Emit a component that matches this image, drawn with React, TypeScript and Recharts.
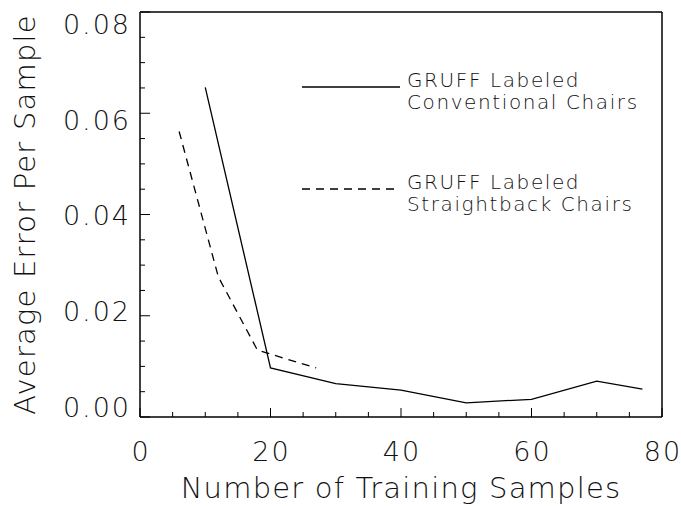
import React from "react";
import { LineChart, Line, XAxis, YAxis, Legend, Label } from "recharts";

// GRUFF labeled conventional chairs
const conventionalSamples = [10, 20, 30, 40, 50, 60, 70, 77];
const conventionalError = [0.0651, 0.0097, 0.0066, 0.0053, 0.0028, 0.0035, 0.0071, 0.0055];

// GRUFF labeled straightback chairs
const straightbackSamples = [6, 12, 18, 27];
const straightbackError = [0.0564, 0.0277, 0.0132, 0.0097];

const xTicks = [0, 5, 10, 15, 20, 25, 30, 35, 40, 45, 50, 55, 60, 65, 70, 75, 80];
const yTicks = [
	0, 0.005, 0.01, 0.015, 0.02, 0.025, 0.03, 0.035, 0.04, 0.045, 0.05, 0.055, 0.06, 0.065, 0.07, 0.075, 0.08,
];

const seriesNames = ["GRUFF Labeled\nConventional Chairs", "GRUFF Labeled\nStraightback Chairs"];

const conventionalData = conventionalSamples.map((x, i) => ({ x, err: conventionalError[i] }));
const straightbackData = straightbackSamples.map((x, i) => ({ x, err: straightbackError[i] }));

const FONT = '"DejaVu Sans", "Liberation Sans", sans-serif';
const INK = "#000";
const TEXT = "#111";

const isMajorX = (v: number) => v % 20 === 0;
const isMajorY = (v: number) => Math.abs(v * 50 - Math.round(v * 50)) < 1e-6;

const MINOR = 5;
const X_EXTRA = 4; // major ticks on x run a little longer
const Y_EXTRA = 5;
const BOTTOM_MARGIN = 30;
const LEFT_MARGIN = 14;

const tickFont = { fontSize: 27, letterSpacing: 2 };
const titleFont = { fontSize: 29, letterSpacing: 1.2 };

// tick renderers: label + extension of the tick line for major ticks
function BottomTick(props: any) {
	const { x, y, payload } = props;
	const v = payload.value;
	const lineY = y - BOTTOM_MARGIN;
	return (
		<g>
			{isMajorX(v) && <line x1={x} x2={x} y1={lineY} y2={lineY - X_EXTRA} stroke={INK} />}
			{isMajorX(v) && (
				<text x={x + 1} y={y} dy="0.71em" textAnchor="middle" fill={TEXT} style={tickFont}>
					{String(v)}
				</text>
			)}
		</g>
	);
}

function TopTick(props: any) {
	const { x, y, payload } = props;
	if (!isMajorX(payload.value)) return <g />;
	return <line x1={x} x2={x} y1={y} y2={y + X_EXTRA} stroke={INK} />;
}

function LeftTick(props: any) {
	const { x, y, payload } = props;
	const v = payload.value;
	if (!isMajorY(v)) return <g />;
	const lineX = x + LEFT_MARGIN;
	// labels sit a bit inside the frame at both ends, as in the original plot
	const labelY = y - 9.5 + v * 268;
	return (
		<g>
			<line x1={lineX} x2={lineX + Y_EXTRA} y1={y} y2={y} stroke={INK} />
			<text x={x} y={labelY} dy="0.36em" textAnchor="end" fill={TEXT} style={tickFont}>
				{v.toFixed(2)}
			</text>
		</g>
	);
}

function RightTick(props: any) {
	const { x, y, payload } = props;
	if (!isMajorY(payload.value)) return <g />;
	return <line x1={x} x2={x - Y_EXTRA} y1={y} y2={y} stroke={INK} />;
}

function ChartLegend(props: any) {
	const payload = props.payload || [];
	return (
		<div style={{ position: "relative", width: 681, height: 506 }}>
			{payload.map((entry: any, i: number) => {
				const lineY = 87 + i * 102;
				const dash = entry.payload?.strokeDasharray;
				const lines = String(entry.value).split("\n");
				return (
					<div key={`leg-${i}`}>
						<svg
							width={100}
							height={4}
							style={{ position: "absolute", left: 302, top: lineY - 2 }}
						>
							<line x1={0} y1={2} x2={98} y2={2} stroke={INK} strokeWidth={1.3} strokeDasharray={dash} />
						</svg>
						<div
							style={{
								position: "absolute",
								left: 407,
								top: lineY - 18,
								fontFamily: FONT,
								fontWeight: 200,
								fontSize: 20,
								lineHeight: "22px",
								letterSpacing: 1.6,
								color: TEXT,
								whiteSpace: "nowrap",
							}}
						>
							{lines.map((t, k) => (
								<div key={k}>{t}</div>
							))}
						</div>
					</div>
				);
			})}
		</div>
	);
}

export default function App() {
	return (
		<div
			style={{
				position: "absolute",
				left: 0,
				top: 0,
				fontFamily: FONT,
				fontWeight: 200,
				width: 681,
				height: 506,
				background: "#fff",
			}}
		>
			<LineChart width={681} height={506} margin={{ top: 11, right: 18, bottom: 88, left: 139 }}>
				<XAxis
					xAxisId="bottom"
					type="number"
					dataKey="x"
					domain={[0, 80]}
					ticks={xTicks}
					interval={0}
					height={1}
					tickSize={-MINOR}
					tickMargin={BOTTOM_MARGIN}
					tick={<BottomTick />}
					stroke={INK}
					axisLine={{ strokeWidth: 1.5 }}
				>
					<Label
						value="Number of Training Samples"
						position="bottom"
						offset={59}
						fill={TEXT}
						style={titleFont}
					/>
				</XAxis>
				<XAxis
					xAxisId="top"
					orientation="top"
					type="number"
					domain={[0, 80]}
					ticks={xTicks}
					interval={0}
					height={1}
					tickSize={-MINOR}
					tickMargin={0}
					tick={<TopTick />}
					stroke={INK}
					axisLine={{ strokeWidth: 1.5 }}
				/>
				<YAxis
					yAxisId="left"
					type="number"
					domain={[0, 0.08]}
					ticks={yTicks}
					interval={0}
					width={1}
					tickSize={-MINOR}
					tickMargin={LEFT_MARGIN}
					tick={<LeftTick />}
					stroke={INK}
					axisLine={{ strokeWidth: 1.5 }}
				>
					<Label
						value="Average Error Per Sample"
						angle={-90}
						position="left"
						offset={114}
						fill={TEXT}
						style={{ ...titleFont, textAnchor: "middle" }}
					/>
				</YAxis>
				<YAxis
					yAxisId="right"
					orientation="right"
					type="number"
					domain={[0, 0.08]}
					ticks={yTicks}
					interval={0}
					width={1}
					tickSize={-MINOR}
					tickMargin={0}
					tick={<RightTick />}
					stroke={INK}
					axisLine={{ strokeWidth: 1.5 }}
				/>
				<Line
					xAxisId="bottom"
					yAxisId="left"
					data={conventionalData}
					dataKey="err"
					name={seriesNames[0]}
					type="linear"
					stroke={INK}
					strokeWidth={1.3}
					dot={false}
					isAnimationActive={false}
				/>
				<Line
					xAxisId="bottom"
					yAxisId="left"
					data={straightbackData}
					dataKey="err"
					name={seriesNames[1]}
					type="linear"
					stroke={INK}
					strokeWidth={1.3}
					strokeDasharray="8 6"
					dot={false}
					isAnimationActive={false}
				/>
				<Legend
					layout="horizontal"
					verticalAlign="middle"
					align="center"
					content={<ChartLegend />}
					wrapperStyle={{ left: 0, top: 0, width: 681, height: 506, pointerEvents: "none" }}
				/>
			</LineChart>
		</div>
	);
}
